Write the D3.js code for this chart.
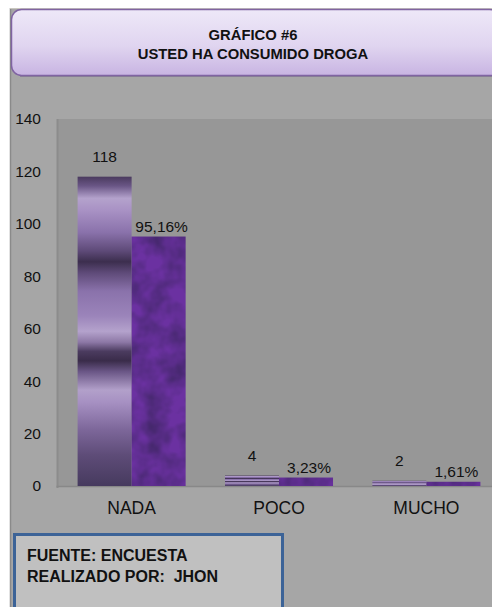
<!DOCTYPE html>
<html><head><meta charset="utf-8">
<script src="https://cdn.jsdelivr.net/npm/d3@7"></script>
<style>
html,body{margin:0;padding:0;background:#fff;}
svg{display:block;}
text{font-family:"Liberation Sans",Arial,sans-serif;}
</style></head>
<body>
<div id="chart"></div>
<script>
const title = ["GRÁFICO #6", "USTED HA CONSUMIDO DROGA"];
const categories = ["NADA", "POCO", "MUCHO"];
const series = ["Frecuencia", "Porcentaje"];
const counts = [118, 4, 2];
const percents = [95.16, 3.23, 1.61];
const countLabels = ["118", "4", "2"];
const percentLabels = ["95,16%", "3,23%", "1,61%"];
const yTicks = [0, 20, 40, 60, 80, 100, 120, 140];
const footer = ["FUENTE: ENCUESTA", "REALIZADO POR:  JHON"];

const W = 492, H = 607;
const NARROW = "'Liberation Sans Narrow','Arial Narrow','Liberation Sans',sans-serif";
const svg = d3.select("#chart").append("svg").attr("width", W).attr("height", H);
const defs = svg.append("defs");

// title gradient
const tg = defs.append("linearGradient").attr("id", "titleGrad").attr("x1", 0).attr("y1", 0).attr("x2", 0).attr("y2", 1);
tg.append("stop").attr("offset", 0).attr("stop-color", "#eee8f8");
tg.append("stop").attr("offset", 0.55).attr("stop-color", "#e0d5f0");
tg.append("stop").attr("offset", 1).attr("stop-color", "#c8b4e2");

// bar 1 banded gradient
const bg = defs.append("linearGradient").attr("id", "bar1Grad").attr("x1", 0).attr("y1", 0).attr("x2", 0).attr("y2", 1);
[[0, "#4a3a5e"], [0.03, "#6a5686"], [0.07, "#b4a2cc"], [0.11, "#a891c4"], [0.18, "#8a72ab"],
 [0.24, "#5e4a78"], [0.275, "#3c2e4e"], [0.31, "#5e4a78"], [0.37, "#8a72ab"], [0.45, "#9b84ba"],
 [0.5, "#b4a2cc"], [0.535, "#8d78a6"], [0.565, "#4b3b5f"], [0.595, "#3a2c4a"], [0.63, "#6a5686"],
 [0.69, "#b2a0ca"], [0.73, "#a690c2"], [0.82, "#7c6699"], [0.9, "#5e4c78"], [1, "#463a5e"]]
  .forEach(([o, c]) => bg.append("stop").attr("offset", o).attr("stop-color", c));

// bar 2 mottled texture
const f = defs.append("filter").attr("id", "mottle").attr("x", 0).attr("y", 0).attr("width", 1).attr("height", 1)
  .attr("color-interpolation-filters", "sRGB");
f.append("feTurbulence").attr("type", "fractalNoise").attr("baseFrequency", 0.045).attr("numOctaves", 3).attr("seed", 4).attr("result", "n");
f.append("feColorMatrix").attr("in", "n").attr("type", "matrix")
  .attr("values", "0 0 0 0 0.25  0 0 0 0 0.15  0 0 0 0 0.40  1.7 0 0 0 -0.55").attr("result", "c");
f.append("feComposite").attr("in", "c").attr("in2", "SourceGraphic").attr("operator", "atop");

// outer chart area
svg.append("rect").attr("x", 10).attr("y", 8).attr("width", W - 10).attr("height", H - 8).attr("fill", "#a6a6a6");
svg.append("line").attr("x1", 10.5).attr("x2", 10.5).attr("y1", 8).attr("y2", H).attr("stroke", "#8a8a8a").attr("stroke-width", 1.5);
svg.append("line").attr("x1", 10).attr("x2", W).attr("y1", 8.5).attr("y2", 8.5).attr("stroke", "#c9c6bf").attr("stroke-width", 1);

// title box
svg.append("rect").attr("x", 11.5).attr("y", 9.5).attr("width", 488).attr("height", 66).attr("rx", 10).attr("ry", 10)
  .attr("fill", "url(#titleGrad)").attr("stroke", "#8064a2").attr("stroke-width", 1.5);
svg.append("line").attr("x1", 20).attr("x2", W).attr("y1", 76.5).attr("y2", 76.5).attr("stroke", "#7a6a8e").attr("stroke-width", 1).attr("opacity", 0.6);
svg.append("g").selectAll("text").data(title).join("text")
  .attr("x", 253).attr("y", (d, i) => 40 + i * 19)
  .attr("text-anchor", "middle").attr("font-weight", "bold").attr("font-size", 14.8).attr("fill", "#111")
  .text(d => d);

// scales
const plot = { left: 57.5, right: 500, top: 119, bottom: 486 };
const y = d3.scaleLinear().domain([0, 140]).range([plot.bottom, plot.top]);
const x0 = d3.scaleBand().domain(categories).range([58, 500]).paddingInner(0.267).paddingOuter(0.133);
const x1 = d3.scaleBand().domain(series).range([0, x0.bandwidth()]);

// plot area
svg.append("rect").attr("x", plot.left).attr("y", plot.top).attr("width", plot.right - plot.left).attr("height", plot.bottom - plot.top)
  .attr("fill", "#979797");
svg.append("line").attr("x1", plot.left).attr("x2", plot.left).attr("y1", plot.top).attr("y2", plot.bottom + 2)
  .attr("stroke", "#8c8c8c").attr("stroke-width", 2);
svg.append("line").attr("x1", plot.left - 1).attr("x2", W).attr("y1", plot.bottom + 0.5).attr("y2", plot.bottom + 0.5)
  .attr("stroke", "#888").attr("stroke-width", 1.5);

// y axis
const yAxis = svg.append("g").attr("transform", "translate(41,0)")
  .call(d3.axisLeft(y).tickValues(yTicks).tickSize(0).tickPadding(0).tickFormat(d3.format("d")));
yAxis.select(".domain").remove();
yAxis.selectAll("text").attr("font-size", 15.5).attr("fill", "#111").attr("font-family", "'Liberation Sans',Arial,sans-serif");

// x axis
const xAxis = svg.append("g").attr("transform", `translate(0,${plot.bottom})`)
  .call(d3.axisBottom(x0).tickSize(0).tickPadding(16));
xAxis.select(".domain").remove();
xAxis.selectAll("text").attr("font-size", 17.5).attr("fill", "#111").attr("font-family", NARROW);

// bars
const groups = svg.append("g").selectAll("g").data(categories).join("g")
  .attr("transform", d => `translate(${x0(d)},0)`);
groups.append("rect")
  .attr("x", x1(series[0])).attr("width", x1.bandwidth())
  .attr("y", (d, i) => y(counts[i])).attr("height", (d, i) => y(0) - y(counts[i]))
  .attr("fill", "url(#bar1Grad)");
groups.append("rect")
  .attr("x", x1(series[1])).attr("width", x1.bandwidth())
  .attr("y", (d, i) => y(percents[i])).attr("height", (d, i) => y(0) - y(percents[i]))
  .attr("fill", "#6b31a1").attr("filter", "url(#mottle)");

// value labels
groups.append("text")
  .attr("x", x1(series[0]) + x1.bandwidth() / 2).attr("y", (d, i) => y(counts[i]) - 15)
  .attr("text-anchor", "middle").attr("font-size", 15.5).attr("fill", "#111")
  .text((d, i) => countLabels[i]);
groups.append("text")
  .attr("x", x1(series[1]) + x1.bandwidth() / 2 + 3).attr("y", (d, i) => y(percents[i]) - 5)
  .attr("text-anchor", "middle").attr("font-size", 15.5).attr("fill", "#111")
  .text((d, i) => percentLabels[i]);

// footer box
svg.append("rect").attr("x", 14.5).attr("y", 534.5).attr("width", 268).attr("height", 80)
  .attr("fill", "#c0c0c0").attr("stroke", "#3c6397").attr("stroke-width", 3);
svg.append("g").selectAll("text").data(footer).join("text")
  .attr("x", 27).attr("y", (d, i) => 561 + i * 20.5)
  .attr("font-weight", "bold").attr("font-size", 16).attr("fill", "#111").attr("font-family", NARROW)
  .attr("xml:space", "preserve").style("white-space", "pre")
  .text(d => d);
</script>
</body></html>
